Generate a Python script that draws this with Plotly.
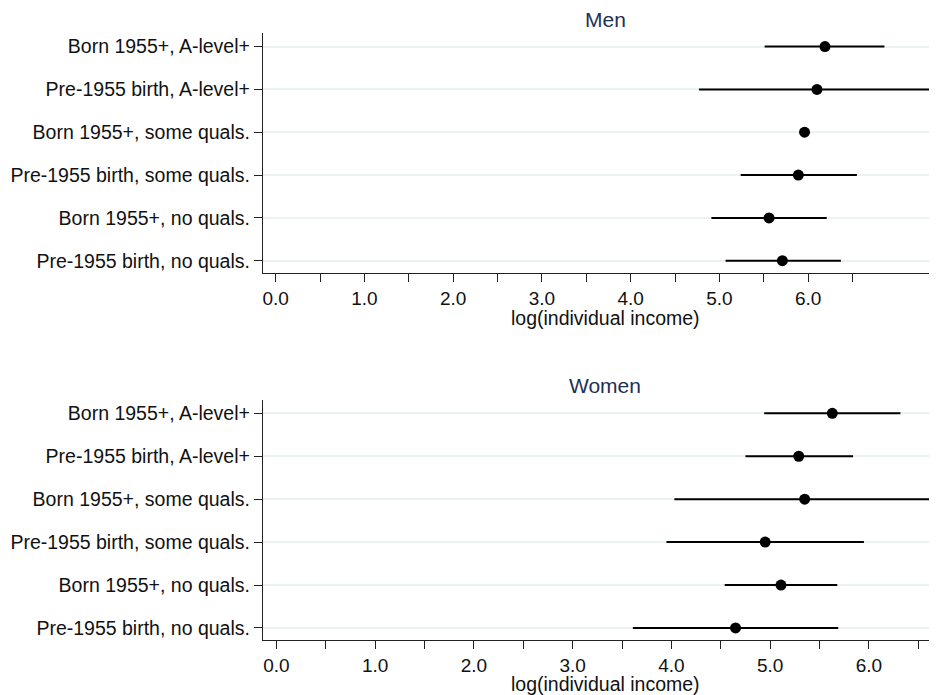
import plotly.graph_objects as go

# row labels, bottom row first
groups = ["Pre-1955 birth, no quals.",
          "Born 1955+, no quals.",
          "Pre-1955 birth, some quals.",
          "Born 1955+, some quals.",
          "Pre-1955 birth, A-level+",
          "Born 1955+, A-level+"]
rows = [1, 2, 3, 4, 5, 6]

# men: point estimate and interval ends
men_est = [5.71, 5.56, 5.89, 5.96, 6.10, 6.19]
men_lo = [5.07, 4.91, 5.24, 5.94, 4.77, 5.51]
men_hi = [6.37, 6.21, 6.55, 5.98, 7.43, 6.86]

# women
women_est = [4.65, 5.11, 4.95, 5.35, 5.29, 5.63]
women_lo = [3.61, 4.54, 3.95, 4.03, 4.75, 4.94]
women_hi = [5.69, 5.68, 5.95, 6.67, 5.84, 6.32]

x_ticks = [0, 0.5, 1, 1.5, 2, 2.5, 3, 3.5, 4, 4.5, 5, 5.5, 6, 6.5]
x_labels = ["0.0", "", "1.0", "", "2.0", "", "3.0", "", "4.0", "", "5.0", "", "6.0", ""]

# page body has an 8px margin, so shift the figure back by that much
OFF = 8
W, H = 937 - OFF, 695 - OFF
font = "Liberation Sans, Arial, sans-serif"

def px_x(p):
    return (p - OFF) / W

def px_y(p):
    return 1 - (p - OFF) / H

fig = go.Figure()

def add_panel(est, lo, hi, xa, ya):
    fig.add_trace(go.Scatter(
        x=est, y=rows, mode="markers",
        marker=dict(color="black", size=11),
        error_x=dict(type="data", symmetric=False,
                     array=[h - e for h, e in zip(hi, est)],
                     arrayminus=[e - l for e, l in zip(est, lo)],
                     width=0, thickness=2, color="black"),
        xaxis=xa, yaxis=ya, showlegend=False, hoverinfo="skip"))

add_panel(men_est, men_lo, men_hi, "x", "y")
add_panel(women_est, women_lo, women_hi, "x2", "y2")

xdom = [px_x(263), min(px_x(935), 1)]
common_x = dict(tickmode="array", tickvals=x_ticks, ticktext=x_labels,
                ticks="outside", ticklen=8, tickwidth=1.3, tickcolor="#222",
                showline=True, linecolor="#222", linewidth=1.3,
                showgrid=False, zeroline=False, automargin=False,
                tickfont=dict(family=font, size=19, color="#111"))
common_y = dict(tickmode="array", tickvals=rows, ticktext=groups,
                ticks="outside", ticklen=8, tickwidth=1.3, tickcolor="#222",
                showline=True, linecolor="#222", linewidth=1.3,
                showgrid=True, gridcolor="#eaf2f3", gridwidth=2,
                zeroline=False, automargin=False,
                tickfont=dict(family=font, size=19.5, color="#111"))

fig.update_layout(
    width=W, height=H,
    margin=dict(l=0, r=0, t=0, b=0),
    paper_bgcolor="white", plot_bgcolor="white",
    xaxis=dict(domain=xdom, range=[-0.143, 7.43], anchor="y", **common_x),
    yaxis=dict(domain=[px_y(272.7), px_y(33.3)], range=[0.72, 6.31], anchor="x", **common_y),
    xaxis2=dict(domain=xdom, range=[-0.136, 6.67], anchor="y2", **common_x),
    yaxis2=dict(domain=[px_y(640), px_y(400)], range=[0.72, 6.31], anchor="x2", **common_y),
)

# panel titles and axis titles
for txt, yp, size, col in [("Men", 19.5, 21, "#1e3054"),
                           ("Women", 386, 21, "#1e3054"),
                           ("log(individual income)", 318, 19.5, "#111"),
                           ("log(individual income)", 683.5, 19.5, "#111")]:
    fig.add_annotation(text=txt, x=px_x(605), y=px_y(yp), xref="paper", yref="paper",
                       xanchor="center", yanchor="middle", showarrow=False, borderpad=0,
                       font=dict(family=font, size=size, color=col))

fig.write_html("out.html")
